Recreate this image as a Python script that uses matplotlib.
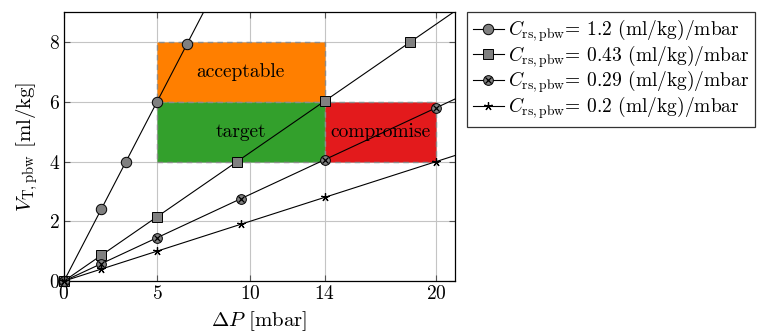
import matplotlib
matplotlib.use("Agg")
import matplotlib.pyplot as plt
from matplotlib.patches import Rectangle
from matplotlib.legend_handler import HandlerTuple
from matplotlib.lines import Line2D

plt.rcParams["font.family"] = ["cmr10", "DejaVu Serif"]
plt.rcParams["mathtext.fontset"] = "cm"
plt.rcParams["axes.formatter.use_mathtext"] = True

# compliance values (ml/kg)/mbar
compliance = [1.2, 0.43, 0.29, 0.2]
labels = ["1.2", "0.43", "0.29", "0.2"]

# sampled pressure / volume points per compliance
dp_1 = [0, 2, 3.33, 5, 6.6]
vt_1 = [0, 2.4, 4.0, 6.0, 7.92]
dp_2 = [0, 2, 5, 9.3, 14, 18.6]
vt_2 = [0, 0.86, 2.15, 4.0, 6.02, 8.0]
dp_3 = [0, 2, 5, 9.5, 14, 20]
vt_3 = [0, 0.58, 1.45, 2.75, 4.06, 5.8]
dp_4 = [0, 2, 5, 9.5, 14, 20]
vt_4 = [0, 0.4, 1.0, 1.9, 2.8, 4.0]

# ventilation zones: (x0, x1, y0, y1, colour, name)
zones = [
    (5, 14, 6, 8, "#FF7F00", "acceptable"),
    (5, 14, 4, 6, "#33A02C", "target"),
    (14, 20, 4, 6, "#E31A1C", "compromise"),
]

xticks = [0, 5, 10, 14, 20]
yticks = [0, 2, 4, 6, 8]

fig = plt.figure(figsize=(7.57, 3.35), dpi=100)
ax = fig.add_axes([0.0845, 0.161, 0.5165, 0.803])

ax.set_xlim(0, 21)
ax.set_ylim(0, 9)
ax.set_xticks(xticks)
ax.set_yticks(yticks)
ax.grid(True, color="#c4c4c4", lw=0.8)
ax.set_axisbelow(True)
ax.tick_params(labelsize=14, direction="in", length=4, top=True, right=True,
               color="#555555", pad=3)
for s in ax.spines.values():
    s.set_linewidth(0.9)

for x0, x1, y0, y1, col, name in zones:
    ax.add_patch(Rectangle((x0, y0), x1 - x0, y1 - y0, facecolor=col,
                           edgecolor="#8c8c8c", lw=1.0, ls=(0, (4, 3)), zorder=1.5))
    ax.text((x0 + x1) / 2, (y0 + y1) / 2, name, ha="center", va="center",
            fontsize=14, zorder=2)

mk_kw = dict(markeredgecolor="black", markeredgewidth=0.7, markerfacecolor="#808080")
star = (5, 2, 0)
handles = []
for c, xs, ys, lab, m in [
    (compliance[0], dp_1, vt_1, labels[0], "o"),
    (compliance[1], dp_2, vt_2, labels[1], "s"),
    (compliance[2], dp_3, vt_3, labels[2], "ox"),
    (compliance[3], dp_4, vt_4, labels[3], "*"),
]:
    ax.axline((0, 0), slope=c, color="black", lw=0.8, zorder=3)
    if m == "ox":
        ax.plot(xs, ys, ls="none", marker="o", ms=7, zorder=4, clip_on=False, **mk_kw)
        ax.plot(xs, ys, ls="none", marker="x", ms=4.5, mew=0.9, color="black",
                zorder=5, clip_on=False)
        h = (Line2D([], [], color="black", lw=0.8, marker="o", ms=7, **mk_kw),
             Line2D([], [], ls="none", marker="x", ms=4.5, mew=0.9, color="black"))
    elif m == "*":
        ax.plot(xs, ys, ls="none", marker=star, ms=6, mew=0.9, color="black",
                zorder=6, clip_on=False)
        h = Line2D([], [], color="black", lw=0.8, marker=star, ms=6, mew=0.9)
    else:
        ax.plot(xs, ys, ls="none", marker=m, ms=7.5, zorder=4, clip_on=False, **mk_kw)
        h = Line2D([], [], color="black", lw=0.8, marker=m, ms=7.5, **mk_kw)
    handles.append((h, r"$C_{\mathrm{rs,pbw}}$= " + lab + " (ml/kg)/mbar"))

ax.set_xlabel(r"$\Delta P$ [mbar]", fontsize=15, labelpad=4)
ax.set_ylabel(r"$V_{\mathrm{T,pbw}}$ [ml/kg]", fontsize=15, labelpad=6)

leg = fig.legend([h for h, _ in handles], [l for _, l in handles],
                 handler_map={tuple: HandlerTuple(ndivide=1)},
                 loc="upper left", bbox_to_anchor=(0.617, 0.965),
                 fontsize=14, frameon=True, fancybox=False, edgecolor="black",
                 handlelength=1.6, handletextpad=0.2, borderpad=0.3,
                 labelspacing=-0.05, borderaxespad=0)
leg.get_frame().set_linewidth(0.9)

fig.savefig("out.png", dpi=100)
